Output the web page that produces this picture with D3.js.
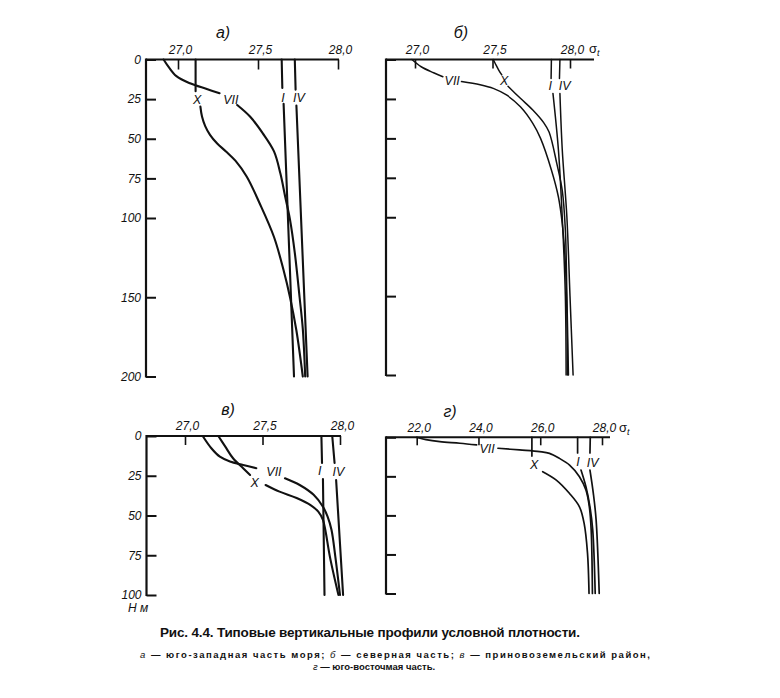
<!DOCTYPE html>
<html><head><meta charset="utf-8">
<script src="https://cdn.jsdelivr.net/npm/d3@7"></script>
<style>body{margin:0;background:#fff}svg{display:block}</style>
</head><body><svg id="c" width="780" height="698"></svg>
<script>
// ---------- DATA ----------
const sigmaTicksA = [27.0, 27.5, 28.0];
const sigmaTicksB = [27.0, 27.5, 28.0];
const sigmaTicksV = [27.0, 27.5, 28.0];
const sigmaTicksG = [22.0, 24.0, 26.0, 28.0];
const depthTicksA = [0, 25, 50, 75, 100, 150, 200];
const depthTicksB = [0, 25, 50, 75, 100, 150, 200];
const depthTicksV = [0, 25, 50, 75, 100];
const depthTicksG = [0, 25, 50, 75, 100];
const seriesNames = ["I", "IV", "VII", "X"];

// Each series: [upper segment, lower segment] of [sigma_t, depth m]; gap holds the label
const aI   = [[[27.648,0],[27.652,18]], [[27.660,28],[27.725,200]]];
const aIV  = [[[27.730,0],[27.735,19]], [[27.740,29],[27.810,200]]];
const aVII = [[[26.91,0],[26.94,4.5],[26.99,10.5],[27.075,15],[27.18,18.6],[27.26,21.3]],
              [[27.37,28.7],[27.45,36],[27.53,46.6],[27.60,58],[27.64,72],[27.67,86.6],[27.70,101],[27.73,122],[27.76,150],[27.78,170],[27.795,200]]];
const aX   = [[[27.11,0],[27.11,20]],
              [[27.14,29.7],[27.15,36],[27.17,42],[27.20,47.5],[27.245,53],[27.30,58],[27.36,64],[27.43,74],[27.51,90.7],[27.60,112],[27.66,133],[27.70,150],[27.74,171],[27.78,200]]];
const aLabels = [[27.656,24],[27.756,24],[27.33,25],[27.12,25]];

const bI   = [[[27.880,0],[27.878,12]], [[27.890,21.5],[27.925,57],[27.95,100],[27.97,150],[27.975,200]]];
const bIV  = [[[27.935,0],[27.932,12]], [[27.935,21.5],[27.95,57],[27.98,100],[28.00,150],[28.02,200]]];
const bVII = [[[26.98,0],[27.04,4.6],[27.12,8.4],[27.18,10.9]],
              [[27.30,14],[27.42,16],[27.505,18.3],[27.59,22.5],[27.68,30],[27.76,40.5],[27.81,50],[27.88,70],[27.925,87],[27.95,104],[27.97,129],[27.98,161],[27.985,200]]];
const bX   = [[[27.505,0],[27.52,3],[27.54,6.7],[27.56,9.8]],
              [[27.60,17],[27.68,24.6],[27.76,32],[27.83,40],[27.865,46],[27.915,66],[27.95,83],[27.97,108],[27.98,150],[27.99,200]]];
const bLabels = [[27.872,16.5],[27.966,16.5],[27.24,13],[27.575,13.5]];

const vI   = [[[27.880,0],[27.884,17]], [[27.890,27],[27.900,100]]];
const vIV  = [[[27.950,0],[27.965,17]], [[27.975,27.7],[28.020,100]]];
const vVII = [[[27.114,0],[27.17,7.7],[27.225,13],[27.29,16],[27.375,18.2],[27.46,20.3]],
              [[27.645,26.6],[27.74,30.8],[27.83,37],[27.89,44.5],[27.92,50.7],[27.945,59],[27.97,76],[28.00,100]]];
const vX   = [[[27.215,0],[27.26,6.7],[27.31,14],[27.375,20.3],[27.42,24.5]],
              [[27.52,30.8],[27.61,35],[27.72,39],[27.81,43.4],[27.86,47.6],[27.89,52.8],[27.905,59],[27.935,76],[27.99,100]]];
const vLabels = [[27.87,22],[27.99,22.5],[27.574,22.6],[27.45,29]];

const gI   = [[[27.21,0],[27.21,10]], [[27.32,21],[27.48,31.7],[27.61,44.5],[27.70,59.4],[27.78,100]]];
const gIV  = [[[27.62,0],[27.61,10]], [[27.61,21],[27.72,36],[27.81,53],[27.91,100]]];
const gVII = [[[22.0,0],[22.3,1.5],[22.75,2.8],[23.4,3.8],[23.94,4.9]],
              [[24.63,7],[25.33,8.1],[25.98,9.2],[26.3,10.3],[26.62,13.5],[26.95,17.8],[27.27,25.2],[27.48,33.8],[27.59,44.5],[27.65,59.4],[27.69,100]]];
const gX   = [[[25.73,0],[25.73,12]],
              [[26.08,22],[26.52,27.4],[26.95,36],[27.27,44.5],[27.42,55],[27.53,74],[27.58,100]]];
const gLabels = [[27.22,15.5],[27.70,16],[24.28,7],[25.80,17.5]];

const panelTitles = ["а)", "б)", "в)", "г)"];
const captionTitle = "Рис. 4.4. Типовые вертикальные профили условной плотности.";

// ---------- DRAW ----------
const svg = d3.select("#c");
const FONT = "'Liberation Sans', Arial, sans-serif";
const fmt = v => d3.format(".1f")(v).replace(".", ",");

function panel(p) {
  const x = d3.scaleLinear().domain(p.sd).range(p.sx);
  const y = d3.scaleLinear().domain(p.dd).range(p.dy);
  const g = svg.append("g");

  // top axis line + ticks
  g.append("line").attr("x1", p.left).attr("x2", p.right).attr("y1", y(0)).attr("y2", y(0))
    .attr("stroke", "#111").attr("stroke-width", 2);
  const top = g.append("g").attr("transform", `translate(0,${y(0)})`)
    .call(d3.axisTop(x).tickValues(p.xt).tickSize(-p.tl).tickSizeOuter(0).tickPadding(p.lp).tickFormat(fmt));
  top.select(".domain").remove();
  top.selectAll(".tick line").attr("stroke", "#111").attr("stroke-width", 1.6);
  top.selectAll(".tick text").attr("font-family", FONT).attr("font-style", "italic")
    .attr("font-size", 12).attr("fill", "#111").attr("dx", 2);

  // left axis
  const yr = y.range();
  g.append("line").attr("x1", p.left).attr("x2", p.left).attr("y1", yr[0] - 1).attr("y2", yr[1] + 1)
    .attr("stroke", "#111").attr("stroke-width", 2.2);
  const la = g.append("g").attr("transform", `translate(${p.left},0)`)
    .call(d3.axisLeft(y).tickValues(p.yt).tickSize(-10).tickSizeOuter(0).tickPadding(5)
      .tickFormat(d => p.ylab ? d : ""));
  la.select(".domain").remove();
  la.selectAll(".tick line").attr("stroke", "#111").attr("stroke-width", 2);
  la.selectAll(".tick text").attr("font-family", FONT).attr("font-style", "italic")
    .attr("font-size", 12).attr("fill", "#111");

  // series
  const line = d3.line().x(d => x(d[0])).y(d => y(d[1])).curve(d3.curveCatmullRom.alpha(0.5));
  p.series.forEach((s, i) => {
    s.forEach(seg => {
      g.append("path").attr("d", line(seg)).attr("fill", "none")
        .attr("stroke", "#111").attr("stroke-width", p.sw).attr("stroke-linecap", "round");
    });
    const lb = p.labels[i];
    g.append("text").attr("x", x(lb[0])).attr("y", y(lb[1])).attr("dy", "0.36em")
      .attr("text-anchor", "middle").attr("font-family", FONT).attr("font-style", "italic")
      .attr("font-size", 12.5).attr("fill", "#111").text(seriesNames[i]);
  });

  // panel title
  g.append("text").attr("x", p.tx).attr("y", p.ty).attr("text-anchor", "middle")
    .attr("font-family", FONT).attr("font-style", "italic").attr("font-size", 16).attr("fill", "#111")
    .text(p.title);

  if (p.sigma) {
    const t = g.append("text").attr("x", p.sigma[0]).attr("y", p.sigma[1])
      .attr("font-family", FONT).attr("font-size", 13).attr("fill", "#111");
    t.append("tspan").text("σ");
    t.append("tspan").attr("font-size", 9).attr("font-style", "italic").attr("dy", 3).text("t");
  }
  return {x, y};
}

panel({sd:[27,28], sx:[178,338], dd:[0,200], dy:[59.5,376.5], left:146, right:339, tl:10, lp:6,
  xt:sigmaTicksA, yt:depthTicksA, ylab:true, sw:2.1,
  series:[aI,aIV,aVII,aX], labels:aLabels, title:panelTitles[0], tx:223, ty:38});

panel({sd:[27,28], sx:[415,570], dd:[0,200], dy:[59.5,375], left:386, right:594, tl:9, lp:6,
  xt:sigmaTicksB, yt:depthTicksB, ylab:false, sw:1.5,
  series:[bI,bIV,bVII,bX], labels:bLabels, title:panelTitles[1], tx:461, ty:38, sigma:[589,53]});

panel({sd:[27,28], sx:[185,340], dd:[0,100], dy:[436,595], left:146.5, right:341, tl:9, lp:6,
  xt:sigmaTicksV, yt:depthTicksV, ylab:true, sw:2.1,
  series:[vI,vIV,vVII,vX], labels:vLabels, title:panelTitles[2], tx:228, ty:415});

panel({sd:[22,28], sx:[416.7,602], dd:[0,100], dy:[437.3,593.5], left:386, right:610, tl:8, lp:5,
  xt:sigmaTicksG, yt:depthTicksG, ylab:false, sw:1.7,
  series:[gI,gIV,gVII,gX], labels:gLabels, title:panelTitles[3], tx:450, ty:417, sigma:[619,432]});

// depth unit label
svg.append("text").attr("x", 128).attr("y", 612).attr("font-family", FONT).attr("font-style", "italic")
  .attr("font-size", 12).attr("fill", "#111").text("Н м");

// caption
svg.append("text").attr("x", 370).attr("y", 637).attr("text-anchor", "middle")
  .attr("font-family", FONT).attr("font-weight", "bold").attr("font-size", 13.5).attr("fill", "#111")
  .attr("textLength", 420).attr("lengthAdjust", "spacing").text(captionTitle);

const cap2 = svg.append("text").attr("x", 395).attr("y", 658).attr("text-anchor", "middle")
  .attr("font-family", FONT).attr("font-size", 9.5).attr("fill", "#111")
  .attr("textLength", 510).attr("lengthAdjust", "spacing");
[["а", true], [" — юго-западная  часть  моря;  ", false], ["б", true], [" — северная  часть;  ", false],
 ["в", true], [" — приновоземельский  район,", false]].forEach(([t, it]) => {
  cap2.append("tspan").attr("font-style", it ? "italic" : "normal").attr("font-weight", it ? "normal" : "bold").text(t);
});
const cap3 = svg.append("text").attr("x", 374).attr("y", 670).attr("text-anchor", "middle")
  .attr("font-family", FONT).attr("font-size", 9.5).attr("fill", "#111");
[["г", true], [" — юго-восточмая часть.", false]].forEach(([t, it]) => {
  cap3.append("tspan").attr("font-style", it ? "italic" : "normal").attr("font-weight", it ? "normal" : "bold").text(t);
});
</script></body></html>
